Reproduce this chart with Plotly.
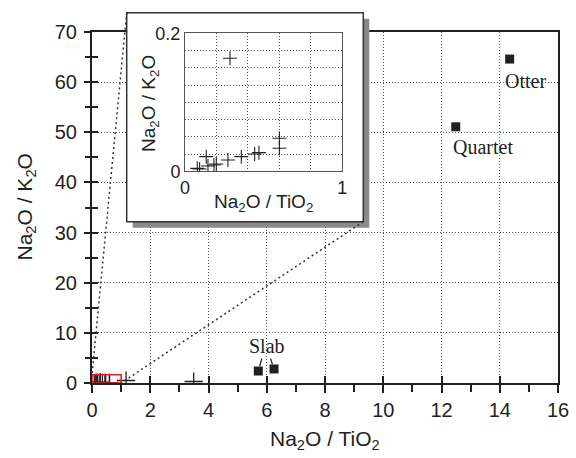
import plotly.graph_objects as go

# ---------------- data ----------------
# low-ratio lavas (crosses), also shown enlarged in the inset
lava_x = [0.078, 0.093, 0.146, 0.135, 0.184, 0.199, 0.273, 0.286, 0.358, 0.443, 0.470, 0.600, 0.600]
lava_y = [0.0043, 0.0033, 0.0077, 0.0212, 0.0091, 0.0106, 0.0164, 0.1638, 0.0212, 0.0251, 0.0270, 0.0333, 0.0478]
# further crosses only visible in the main panel
extra_x = [1.17, 3.49]
extra_y = [0.5, 0.3]
# named samples (filled squares)
named_label = ["Slab", "Slab", "Quartet", "Otter"]
named_x = [5.71, 6.25, 12.49, 14.34]
named_y = [2.39, 2.80, 51.1, 64.6]

main_x_range = [0, 16]
main_y_range = [0, 70]
inset_x_range = [0, 1]
inset_y_range = [0, 0.2]
zoom_box_height = 1.65  # drawn height of the red zoom marker (data units)

x_title = "Na<sub>2</sub>O / TiO<sub>2</sub>"
y_title = "Na<sub>2</sub>O / K<sub>2</sub>O"

TXT = "#231f20"
GRID = "#505050"
GRID_DASH = "1px,2px"
SANS = "Liberation Sans, Arial, sans-serif"
SERIF = "Liberation Serif, Times New Roman, serif"

W, H = 576, 458
ML, MR, MT, MB = 92, 18, 10, 75
PW = W - ML - MR
PH = H - MT - MB


def px_x(p):
    return (p - ML) / PW


def px_y(p):
    return (H - MB - p) / PH


main_top = px_y(32)

fig = go.Figure()

# main panel
fig.add_trace(go.Scatter(
    x=lava_x + extra_x, y=lava_y + extra_y, mode="markers",
    marker=dict(symbol="cross-thin", size=13, line=dict(width=1.3, color=TXT)),
    xaxis="x", yaxis="y", showlegend=False, hoverinfo="skip"))
fig.add_trace(go.Scatter(
    x=named_x, y=named_y, mode="markers",
    marker=dict(symbol="square", size=9, color=TXT, line=dict(width=0)),
    xaxis="x", yaxis="y", showlegend=False, text=named_label))
# overlay axes for the inner half of the crossing ticks
fig.add_trace(go.Scatter(x=[], y=[], xaxis="x4", yaxis="y4", showlegend=False))
# inset frame subplot (drawn above main panel)
fig.add_trace(go.Scatter(x=[], y=[], xaxis="x2", yaxis="y2", showlegend=False))
# inset
fig.add_trace(go.Scatter(
    x=lava_x, y=lava_y, mode="markers",
    marker=dict(symbol="cross-thin", size=10, line=dict(width=1.1, color=TXT)),
    xaxis="x3", yaxis="y3", showlegend=False, hoverinfo="skip"))

# inset frame geometry (pixels -> paper)
bx0, bx1 = px_x(126.7), px_x(363.3)
by0, by1 = px_y(221.7), px_y(12.7)
sdx, sdy = 6 / PW, 6 / PH
fr_x = [px_x(122), px_x(372)]
fr_y = [px_y(231), 1.0]
in_x = [px_x(185), px_x(342.3)]
in_y = [px_y(171.3), px_y(33.3)]

ax_common = dict(showline=True, linecolor=TXT, zeroline=False, automargin=False,
                 tickfont=dict(family=SANS, size=20, color=TXT))

fig.update_layout(
    width=W, height=H,
    margin=dict(l=ML, r=MR, t=MT, b=MB, autoexpand=False),
    paper_bgcolor="white", plot_bgcolor="rgba(0,0,0,0)",
    font=dict(family=SANS, color=TXT),
    xaxis=dict(
        **ax_common, domain=[0, 1], anchor="y", range=main_x_range, dtick=2, tick0=0,
        linewidth=2, mirror=True, ticks="outside", ticklen=8, tickwidth=1.6, tickcolor=TXT,
        showgrid=True, gridcolor=GRID, griddash=GRID_DASH, gridwidth=1,
        minor=dict(dtick=1, ticks="outside", ticklen=7, tickwidth=1.6, tickcolor=TXT, showgrid=False),
    ),
    yaxis=dict(
        **ax_common, domain=[0, main_top], anchor="x", range=main_y_range, dtick=10, tick0=0,
        linewidth=2, mirror=True, ticks="outside", ticklen=6, tickwidth=1.6, tickcolor=TXT,
        showgrid=True, gridcolor=GRID, griddash=GRID_DASH, gridwidth=1,
        minor=dict(dtick=5, ticks="outside", ticklen=5, tickwidth=1.6, tickcolor=TXT, showgrid=False),
        ticklabelstandoff=3,
    ),
    xaxis4=dict(overlaying="x", anchor="y", side="bottom", range=main_x_range, dtick=2, tick0=0,
                ticks="inside", ticklen=7, tickwidth=1.6, tickcolor=TXT, showticklabels=False,
                showgrid=False, showline=False, zeroline=False, automargin=False),
    yaxis4=dict(overlaying="y", anchor="x", side="left", range=main_y_range, dtick=5, tick0=0,
                ticks="inside", ticklen=6, tickwidth=1.6, tickcolor=TXT, showticklabels=False,
                showgrid=False, showline=False, zeroline=False, automargin=False),
    xaxis2=dict(domain=fr_x, range=fr_x, anchor="y2", visible=False, fixedrange=True, automargin=False),
    yaxis2=dict(domain=fr_y, range=fr_y, anchor="x2", visible=False, fixedrange=True, automargin=False),
    xaxis3=dict(
        domain=in_x, anchor="y3", range=inset_x_range, dtick=1, tick0=0, automargin=False,
        showline=True, mirror=True, linecolor="#555", linewidth=1, zeroline=False,
        ticks="", showgrid=False, tickfont=dict(family=SANS, size=18, color=TXT),
        minor=dict(dtick=0.2, showgrid=True, gridcolor=GRID, griddash=GRID_DASH, gridwidth=1, ticks=""),
    ),
    yaxis3=dict(
        domain=in_y, anchor="x3", range=inset_y_range, dtick=0.2, tick0=0, automargin=False,
        showline=True, mirror=True, linecolor="#555", linewidth=1, zeroline=False,
        ticks="", showgrid=False, tickfont=dict(family=SANS, size=18, color=TXT),
        minor=dict(dtick=0.025, showgrid=True, gridcolor=GRID, griddash=GRID_DASH, gridwidth=1, ticks=""),
    ),
)

shapes = [
    # inset shadow and frame (in the frame subplot, above the main panel)
    dict(type="rect", xref="x2", yref="y2", x0=bx0 + sdx, x1=bx1 + sdx, y0=by0 - sdy, y1=by1 - sdy,
         fillcolor="#8a8a8a", line=dict(width=0), layer="below"),
    dict(type="rect", xref="x2", yref="y2", x0=bx0, x1=bx1, y0=by0, y1=by1,
         fillcolor="white", line=dict(color="#333", width=1.5), layer="below"),
    # red marker of the zoomed region
    dict(type="rect", xref="x", yref="y", x0=inset_x_range[0], x1=inset_x_range[1],
         y0=0, y1=zoom_box_height, line=dict(color="#e3202a", width=1.6), layer="above"),
]
zb_x0 = inset_x_range[0] / main_x_range[1]
zb_x1 = inset_x_range[1] / main_x_range[1]
zb_y1 = zoom_box_height / main_y_range[1] * main_top
shapes += [
    dict(type="line", xref="paper", yref="paper", x0=bx0, y0=by1, x1=zb_x0, y1=zb_y1,
         line=dict(color="#333", width=1.5, dash="2px,3px"), layer="above"),
    dict(type="line", xref="paper", yref="paper", x0=bx1, y0=by0, x1=zb_x1, y1=0,
         line=dict(color="#333", width=1.5, dash="2px,3px"), layer="above"),
]
fig.update_layout(shapes=shapes)

ann_font = dict(family=SERIF, size=20, color=TXT)
title_font = dict(family=SANS, size=21, color=TXT)
inset_title_font = dict(family=SANS, size=19, color=TXT)
annotations = [
    # axis titles
    dict(x=0.5, y=px_y(440), xref="paper", yref="paper", text=x_title, showarrow=False,
         font=title_font, xanchor="center", yanchor="middle"),
    dict(x=px_x(25), y=(px_y(32) + px_y(383)) / 2, xref="paper", yref="paper", text=y_title,
         showarrow=False, font=title_font, textangle=-90, xanchor="center", yanchor="middle"),
    dict(x=(in_x[0] + in_x[1]) / 2, y=px_y(203), xref="paper", yref="paper", text=x_title,
         showarrow=False, font=inset_title_font, xanchor="center", yanchor="middle"),
    dict(x=px_x(150), y=px_y(104), xref="paper", yref="paper", text=y_title,
         showarrow=False, font=inset_title_font, textangle=-90, xanchor="center", yanchor="middle"),
    # sample labels
    dict(x=named_x[3], y=named_y[3], xref="x", yref="y", text=named_label[3], showarrow=False,
         font=ann_font, xshift=16, yshift=-22),
    dict(x=named_x[2], y=named_y[2], xref="x", yref="y", text=named_label[2], showarrow=False,
         font=ann_font, xshift=27, yshift=-20),
    dict(x=named_x[0], y=named_y[0], xref="x", yref="y", text=named_label[0], showarrow=False,
         font=ann_font, xshift=9, yshift=25),
    dict(x=named_x[0], y=named_y[0], xref="x", yref="y", text="", showarrow=True, arrowhead=0,
         arrowwidth=1.2, arrowcolor=TXT, ax=4, ay=-14, standoff=5),
    dict(x=named_x[1], y=named_y[1], xref="x", yref="y", text="", showarrow=True, arrowhead=0,
         arrowwidth=1.2, arrowcolor=TXT, ax=-4, ay=-12, standoff=5),
]
fig.update_layout(annotations=annotations)

fig.write_html("out.html", config={"displayModeBar": False},
               post_script="document.body.style.margin='0';")
